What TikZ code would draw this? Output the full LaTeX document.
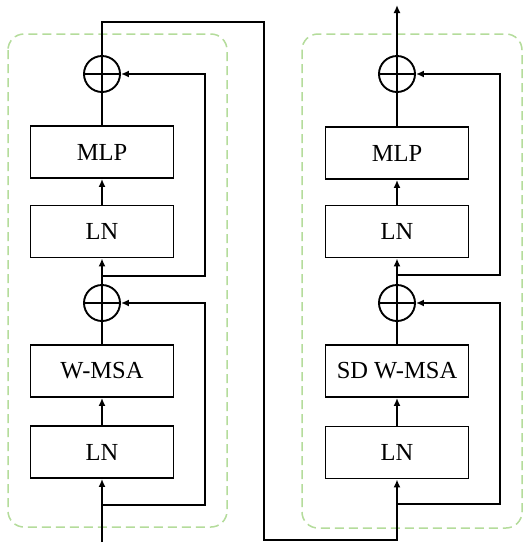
\documentclass[tikz,border=0pt]{standalone}
\usepackage{fontspec}
\setmainfont{Liberation Serif}
\usetikzlibrary{arrows.meta}
\definecolor{dashgreen}{RGB}{180,220,155}
\tikzset{
  blk/.style={draw, line width=1.9pt, minimum width=143pt, minimum height=52pt, inner sep=0pt, font=\fontsize{24.5}{28}\selectfont},
  addnode/.style={draw, circle, line width=1.9pt, minimum size=36pt, inner sep=0pt,
    path picture={\draw[line width=1.9pt] (path picture bounding box.north) -- (path picture bounding box.south)
      (path picture bounding box.west) -- (path picture bounding box.east);}},
  wire/.style={line width=1.9pt},
  arr/.style={wire, -{Latex[length=8pt,width=7pt]}},
  group/.style={draw=dashgreen, line width=1.5pt, dash pattern=on 9pt off 5pt, rounded corners=16pt}
}
\begin{document}
\begin{tikzpicture}[x=1pt,y=-1pt]
\useasboundingbox (0,0) rectangle (531,550);
\fill[white] (0,0) rectangle (531,550);
% groups
\draw[group] (8,34) rectangle (227,527);
\draw[group] (302,34) rectangle (522,528);
% left column
\node[addnode] (plusL2) at (102,74) {};
\node[blk] (mlpL) at (102,152) {MLP};
\node[blk] (lnL2) at (102,231.5) {LN};
\node[addnode] (plusL1) at (102,303) {};
\node[blk] (msaL) at (102,371) {W-MSA};
\node[blk] (lnL1) at (102,452) {LN};
% right column
\node[addnode] (plusR2) at (397,74) {};
\node[blk] (mlpR) at (397,153) {MLP};
\node[blk] (lnR2) at (397,231.5) {LN};
\node[addnode] (plusR1) at (397,303) {};
\node[blk] (msaR) at (397,371) {SD W-MSA};
\node[blk] (lnR1) at (397,452.5) {LN};
% coordinates
\coordinate (inL) at (102,542);
\coordinate (brL1) at (102,505);
\coordinate (skL1) at (205,505);
\coordinate (brL2) at (102,276);
\coordinate (skL2) at (205,276);
\coordinate (topL) at (102,22);
\coordinate (topM) at (264,22);
\coordinate (botM) at (264,540);
\coordinate (botR) at (397,540);
\coordinate (brR1) at (397,504);
\coordinate (skR1) at (500,504);
\coordinate (brR2) at (397,275);
\coordinate (skR2) at (500,275);
\coordinate (outR) at (397,5);
% left wiring
\draw[arr] (inL) -- (lnL1.south);
\draw[arr] (lnL1.north) -- (msaL.south);
\draw[wire] (msaL.north) -- (plusL1.south);
\draw[arr] (brL1) -- (skL1) |- (plusL1.east);
\draw[arr] (plusL1.north) -- (lnL2.south);
\draw[arr] (brL2) -- (skL2) |- (plusL2.east);
\draw[arr] (lnL2.north) -- (mlpL.south);
\draw[wire] (mlpL.north) -- (plusL2.south);
\draw[arr] (plusL2.north) -- (topL) -- (topM) -- (botM) -- (botR) -- (lnR1.south);
% right wiring
\draw[arr] (lnR1.north) -- (msaR.south);
\draw[wire] (msaR.north) -- (plusR1.south);
\draw[arr] (brR1) -- (skR1) |- (plusR1.east);
\draw[arr] (plusR1.north) -- (lnR2.south);
\draw[arr] (brR2) -- (skR2) |- (plusR2.east);
\draw[arr] (lnR2.north) -- (mlpR.south);
\draw[wire] (mlpR.north) -- (plusR2.south);
\draw[arr] (plusR2.north) -- (outR);
\end{tikzpicture}
\end{document}
